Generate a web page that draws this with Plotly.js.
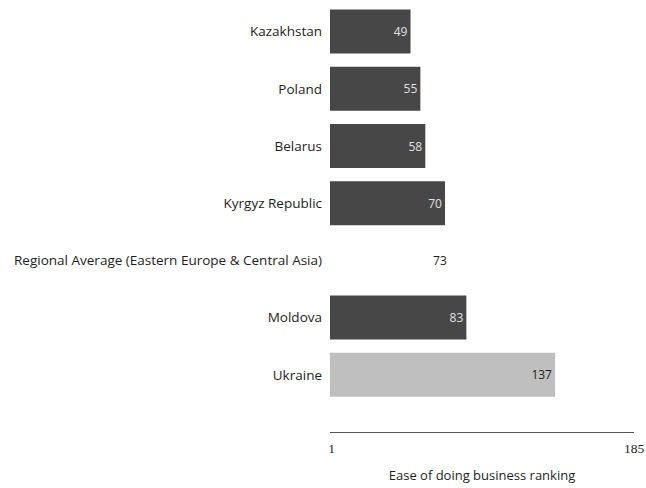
<!DOCTYPE html>
<html>
<head>
<meta charset="utf-8">
<script src="https://cdn.plot.ly/plotly-3.0.1.min.js"></script>
<style>
  html, body { margin: 0; padding: 0; background: #ffffff; }
  #chart { width: 646px; height: 488px; }
</style>
</head>
<body>
<div id="chart"></div>
<script>
// Ease of doing business ranking, selected economies
const countries = [
  'Kazakhstan',
  'Poland',
  'Belarus',
  'Kyrgyz Republic',
  'Regional Average (Eastern Europe & Central Asia)',
  'Moldova',
  'Ukraine'
];
const ranks = [49, 55, 58, 70, 73, 83, 137];
const axisTicks = [1, 185];
const axisTickText = ['1', '185'];

const FOCUS = 'Ukraine';
const AVERAGE = 'Regional Average (Eastern Europe & Central Asia)';

const SANS = '"Open Sans", Lato, sans-serif';
const SERIF = '"Liberation Serif", "DejaVu Serif", serif';

function barColor(name) {
  if (name === AVERAGE) return 'rgba(255,255,255,0)';
  if (name === FOCUS) return '#bfbfbf';
  return '#474747';
}
function labelColor(name) {
  if (name === AVERAGE || name === FOCUS) return '#1e1e1e';
  return '#e0e0e0';
}

const trace = {
  type: 'bar',
  orientation: 'h',
  y: countries,
  x: ranks,
  text: ranks.map(String),
  textposition: 'inside',
  insidetextanchor: 'end',
  textangle: 0,
  constraintext: 'none',
  cliponaxis: false,
  textfont: { family: SANS, size: 12, color: countries.map(labelColor) },
  marker: { color: countries.map(barColor), line: { width: 0 } },
  width: 0.77,
  hoverinfo: 'skip'
};

const layout = {
  width: 646,
  height: 488,
  margin: { l: 330.4, r: 12, t: 3.4, b: 56, pad: 0 },
  paper_bgcolor: '#ffffff',
  plot_bgcolor: '#ffffff',
  showlegend: false,
  font: { family: SANS, size: 13, color: '#1e1e1e' },
  xaxis: {
    range: [0, 185],
    tickvals: axisTicks,
    ticktext: axisTickText,
    showgrid: false,
    zeroline: false,
    showline: true,
    linecolor: '#555555',
    linewidth: 1,
    ticks: '',
    ticklabelstandoff: 4,
    tickfont: { family: SERIF, size: 13.5, color: '#1e1e1e' },
    title: { text: 'Ease of doing business ranking', font: { family: SANS, size: 13, color: '#1e1e1e' }, standoff: 15 },
    fixedrange: true
  },
  yaxis: {
    type: 'category',
    range: [7, -0.5],
    showgrid: false,
    zeroline: false,
    showline: false,
    ticks: '',
    ticklabelstandoff: 7,
    tickfont: { family: SANS, size: 13.5, color: '#1e1e1e' },
    fixedrange: true
  }
};

Plotly.newPlot('chart', [trace], layout, { staticPlot: true, displayModeBar: false });
</script>
</body>
</html>
